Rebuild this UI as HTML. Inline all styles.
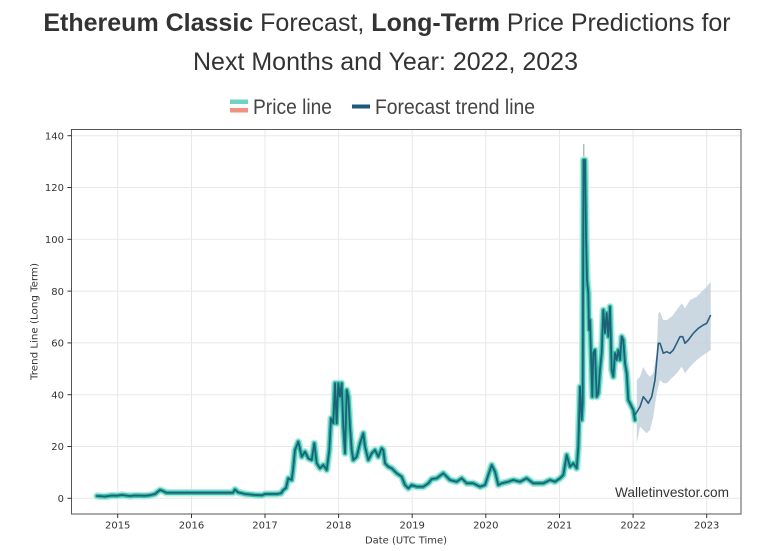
<!DOCTYPE html>
<html>
<head>
<meta charset="utf-8">
<style>
html,body{margin:0;padding:0;background:#fff;}
svg{display:block;}
</style>
</head>
<body>
<svg width="778" height="551" viewBox="0 0 778 551" xmlns="http://www.w3.org/2000/svg">
<defs>
<polyline id="pl" points="97,496 105,496.5 112,495.5 117,495.7 122,495 126,495.5 130,496 135,495.5 145,495.7 150,495.3 155,494 158,491.5 160,490 163,491 166,492.7 175,492.7 200,492.7 233,492.7 235,489.5 238,492.3 245,494 255,495 262,495.3 265,494 270,494 277,494 281,493.3 283.3,490 286,488 288.3,478.3 291.7,480 293,470 295,450 298.3,441.7 301.7,456.7 305,451.7 308.3,458.3 311.7,460 314.3,443.3 316.7,463.3 320,468.3 323.3,465 326.7,470 329.3,450 331,418.3 333.3,423.3 335,383.3 336.7,423.3 338.3,383.3 340,396.7 341.7,383.3 343.3,426.7 345,453.3 346.7,390 348.3,396.7 350,426.7 351.7,450 353.3,460 356.7,456.7 360,443.3 363.3,433.3 365,446.7 368.3,460 371.7,453.3 375,450 378.3,456.7 381.7,448.3 383.3,450 385,463.3 388.3,466.7 391.7,468.3 396.7,473.3 401.7,476.7 405,485 408.3,488.3 411.7,485 416.7,486.7 423.3,486.7 428.3,483.3 431.7,479 436.7,478.3 443.3,473.3 450,480 456.7,481.7 461.7,478.3 466.7,483.3 473.3,483.3 480,486.7 485,485 488.3,475 491.7,465 495,471.7 498.3,485 501.7,483.3 508.3,481.7 513.3,480 520,481.7 526.7,478.3 533.3,483.3 543.3,483.3 550,480 555,481.7 560,478.3 563.3,475 566.7,455 570,466.7 573.3,463.3 576.7,468.3 578.3,446.7 580,386.7 581.7,420 582.7,403 583.5,160 585,160 586,236 587,280 588.3,293 589,330 590,320 591,355 592.3,396.7 593.3,353 595,350 596.7,396.7 598.3,393.3 600,370 601.7,353 603.3,310 605,333 606.7,313 608.3,336.7 610,306.7 611.7,370 613.3,376.7 615,353 616.7,360 618.3,350 620,360 621.7,336.7 623.3,340 625,363.3 626.7,373.3 628.3,400 630,403.3 631.7,406.7 633.3,410 635,420"/>
</defs>
<rect x="0" y="0" width="778" height="551" fill="#fff"/>

<!-- Title -->
<text x="387" y="31" text-anchor="middle" font-family="Liberation Sans, Arial, sans-serif" font-size="25" fill="#333"><tspan font-weight="bold">Ethereum Classic</tspan> Forecast, <tspan font-weight="bold">Long-Term</tspan> Price Predictions for</text>
<text x="385.5" y="70" text-anchor="middle" font-family="Liberation Sans, Arial, sans-serif" font-size="25" fill="#333">Next Months and Year: 2022, 2023</text>

<!-- Legend -->
<rect x="230" y="99.5" width="18" height="4.5" fill="#6ed6c0"/>
<rect x="230" y="108" width="18" height="4.5" fill="#f0927e"/>
<text x="253" y="114" font-family="Liberation Sans, Arial, sans-serif" font-size="21" fill="#444" textLength="79" lengthAdjust="spacingAndGlyphs">Price line</text>
<rect x="352" y="104.5" width="18" height="4" fill="#1d5a7a"/>
<text x="375" y="114" font-family="Liberation Sans, Arial, sans-serif" font-size="21" fill="#444" textLength="160" lengthAdjust="spacingAndGlyphs">Forecast trend line</text>

<!-- Grid -->
<g stroke="#e8e8e8" stroke-width="1">
<line x1="71.5" x2="741" y1="498.3" y2="498.3"/>
<line x1="71.5" x2="741" y1="446.5" y2="446.5"/>
<line x1="71.5" x2="741" y1="394.7" y2="394.7"/>
<line x1="71.5" x2="741" y1="342.9" y2="342.9"/>
<line x1="71.5" x2="741" y1="291.1" y2="291.1"/>
<line x1="71.5" x2="741" y1="239.3" y2="239.3"/>
<line x1="71.5" x2="741" y1="187.5" y2="187.5"/>
<line x1="71.5" x2="741" y1="135.7" y2="135.7"/>
<line y1="129" y2="514" x1="117.7" x2="117.7"/>
<line y1="129" y2="514" x1="191.5" x2="191.5"/>
<line y1="129" y2="514" x1="265" x2="265"/>
<line y1="129" y2="514" x1="338.6" x2="338.6"/>
<line y1="129" y2="514" x1="412.2" x2="412.2"/>
<line y1="129" y2="514" x1="485.8" x2="485.8"/>
<line y1="129" y2="514" x1="559.5" x2="559.5"/>
<line y1="129" y2="514" x1="633.1" x2="633.1"/>
<line y1="129" y2="514" x1="706.7" x2="706.7"/>
</g>

<!-- Forecast band -->
<polygon fill="#b9cbd8" fill-opacity="0.75" points="636.7,380 640,376.7 643.3,366.7 646.7,373.3 650,376.7 653.3,373.3 656.7,353.3 658.3,313.3 660,311.7 663.3,320 666.7,320 671.7,316.7 676.7,310 681.7,303.3 685,308.3 690,300 696.7,296.7 703.3,290 706.7,286.7 710.7,281.7 710.7,350 708.3,351.7 703.3,355 696.7,360 690,366.7 685,373.3 681.7,366.7 676.7,373.3 671.7,378.3 666.7,383.3 663.3,383.3 660,380 656.7,393.3 653.3,416.7 650,430 646.7,433.3 643.3,430 640,426.7 636.7,443.3"/>

<!-- thin grey line at peak -->
<line x1="583.8" x2="583.8" y1="144" y2="162" stroke="#999" stroke-width="1"/>

<!-- Price line -->
<g fill="none" stroke-linejoin="round" stroke-linecap="round">
<use href="#pl" stroke="#b4ece1" stroke-width="7.5"/>
<use href="#pl" stroke="#3bbfac" stroke-width="4.5"/>
<use href="#pl" stroke="#1b6276" stroke-width="1.8"/>
</g>

<!-- Forecast line -->
<polyline fill="none" stroke="#2a5f80" stroke-width="1.6" stroke-linejoin="round" points="635,415 640,406.7 643.3,396.7 646,400 648.3,403.3 651.7,396.7 655,380 658.3,343.3 660,343.3 663.3,353.3 666.7,351.7 670,353.3 673.3,350 676.7,343.3 680,336.7 682.7,336.7 685,343.3 688.3,340 693.3,333.3 698.3,328.3 703.3,325 706.7,323.3 710.7,315"/>

<!-- Watermark -->
<text x="615" y="497" font-family="Liberation Sans, Arial, sans-serif" font-size="14" fill="#333" textLength="114" lengthAdjust="spacingAndGlyphs">Walletinvestor.com</text>

<!-- Axes border -->
<rect x="71.5" y="129.5" width="669.5" height="384.5" fill="none" stroke="#555" stroke-width="1"/>

<!-- Ticks -->
<g stroke="#333" stroke-width="1">
<line x1="67.5" x2="71.5" y1="498.3" y2="498.3"/>
<line x1="67.5" x2="71.5" y1="446.5" y2="446.5"/>
<line x1="67.5" x2="71.5" y1="394.7" y2="394.7"/>
<line x1="67.5" x2="71.5" y1="342.9" y2="342.9"/>
<line x1="67.5" x2="71.5" y1="291.1" y2="291.1"/>
<line x1="67.5" x2="71.5" y1="239.3" y2="239.3"/>
<line x1="67.5" x2="71.5" y1="187.5" y2="187.5"/>
<line x1="67.5" x2="71.5" y1="135.7" y2="135.7"/>
<line y1="514" y2="518" x1="117.7" x2="117.7"/>
<line y1="514" y2="518" x1="191.5" x2="191.5"/>
<line y1="514" y2="518" x1="265" x2="265"/>
<line y1="514" y2="518" x1="338.6" x2="338.6"/>
<line y1="514" y2="518" x1="412.2" x2="412.2"/>
<line y1="514" y2="518" x1="485.8" x2="485.8"/>
<line y1="514" y2="518" x1="559.5" x2="559.5"/>
<line y1="514" y2="518" x1="633.1" x2="633.1"/>
<line y1="514" y2="518" x1="706.7" x2="706.7"/>
</g>
<g font-family="DejaVu Sans, sans-serif" font-size="10" fill="#333" text-anchor="end">
<text x="64" y="502">0</text>
<text x="64" y="450.2">20</text>
<text x="64" y="398.4">40</text>
<text x="64" y="346.6">60</text>
<text x="64" y="294.8">80</text>
<text x="64" y="243">100</text>
<text x="64" y="191.2">120</text>
<text x="64" y="139.4">140</text>
</g>
<g font-family="DejaVu Sans, sans-serif" font-size="10" fill="#333" text-anchor="middle">
<text x="117.7" y="528.5">2015</text>
<text x="191.5" y="528.5">2016</text>
<text x="265" y="528.5">2017</text>
<text x="338.6" y="528.5">2018</text>
<text x="412.2" y="528.5">2019</text>
<text x="485.8" y="528.5">2020</text>
<text x="559.5" y="528.5">2021</text>
<text x="633.1" y="528.5">2022</text>
<text x="706.7" y="528.5">2023</text>
</g>
<text x="406" y="543.3" text-anchor="middle" font-family="DejaVu Sans, sans-serif" font-size="9.5" fill="#333" textLength="82" lengthAdjust="spacingAndGlyphs">Date (UTC Time)</text>
<text transform="translate(37.5,321.5) rotate(-90)" x="0" y="0" text-anchor="middle" font-family="DejaVu Sans, sans-serif" font-size="9.5" fill="#333" textLength="117" lengthAdjust="spacingAndGlyphs">Trend Line (Long Term)</text>
</svg>
</body>
</html>
